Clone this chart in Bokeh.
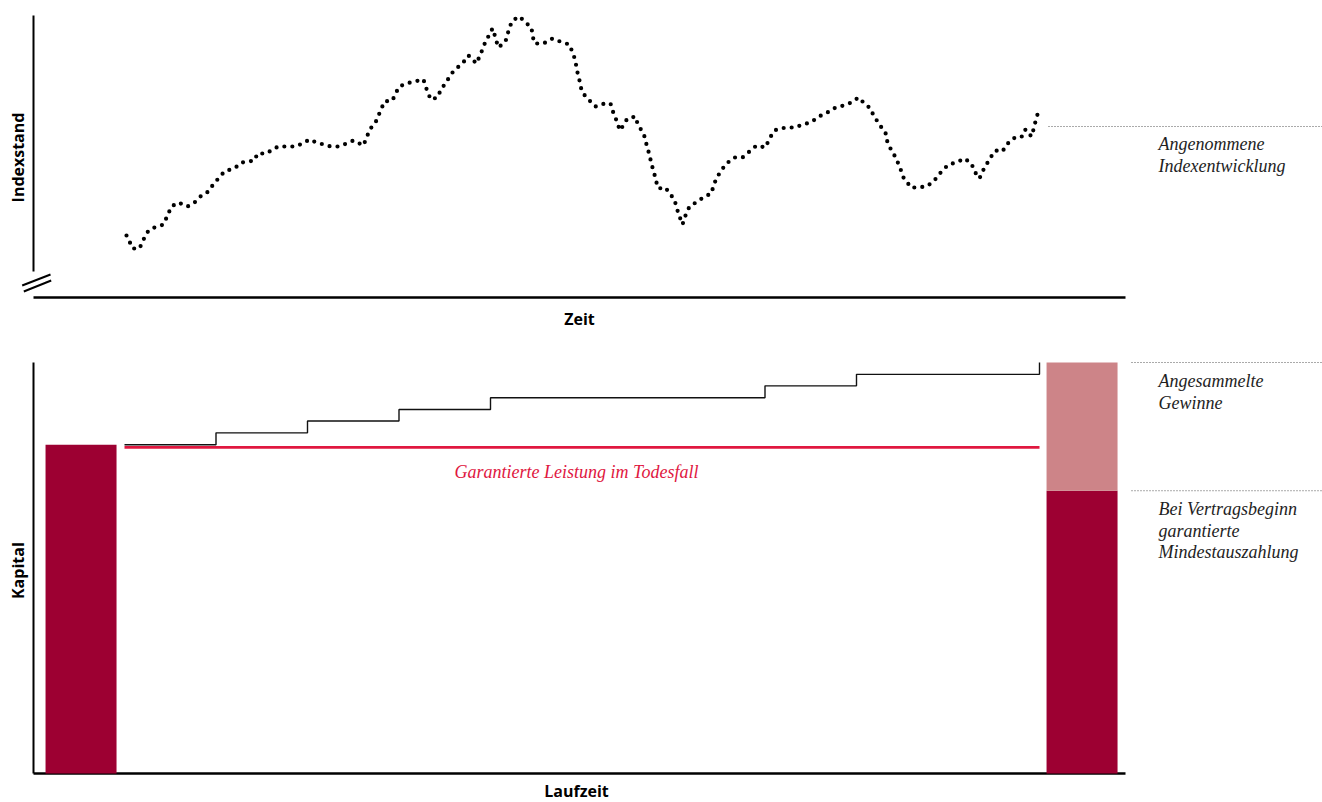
from bokeh.plotting import figure
from bokeh.models import Range1d
from bokeh.layouts import column
from bokeh.core.properties import value
from bokeh.embed import file_html
from bokeh.resources import INLINE

# ---------------- data: top chart (assumed index development) ----------------
zeit_tage = [0, 3, 6, 13, 17, 22, 28, 37, 41, 45,
             52, 61, 68, 75, 82, 86, 91, 98, 104, 109,
             115, 122, 128, 131, 140, 146, 152, 160, 169, 176,
             183, 190, 197, 204, 212, 220, 227, 237, 240, 244,
             249, 252, 255, 258, 266, 269, 273, 280, 288, 297,
             299, 302, 304, 311, 314, 318, 322, 326, 331, 336,
             342, 350, 353, 356, 359, 363, 366, 368, 370, 372,
             379, 381, 383, 386, 393, 399, 405, 406, 408, 417,
             426, 436, 443, 446, 449, 450, 452, 454, 455, 459,
             463, 469, 478, 484, 486, 489, 491, 494, 497, 501,
             509, 511, 515, 518, 520, 522, 524, 526, 528, 530,
             532, 539, 543, 548, 550, 553, 556, 559, 563, 571,
             578, 585, 587, 590, 594, 600, 608, 616, 623, 630,
             639, 643, 648, 653, 661, 669, 676, 684, 690, 696,
             703, 709, 717, 725, 732, 738, 744, 747, 751, 755,
             759, 760, 763, 766, 770, 772, 775, 777, 781, 784,
             791, 800, 807, 811, 815, 822, 830, 838, 845, 848,
             853, 856, 860, 864, 869, 876, 879, 883, 890, 896,
             899, 905, 907, 909, 911, 913]
indexstand = [62, 56, 49, 49, 58, 67, 70, 73, 82, 91,
              95, 91, 95, 102, 106, 112, 118, 126, 128, 130,
              135, 136, 137, 144, 144, 148, 151, 151, 151, 154,
              158, 155, 153, 151, 151, 154, 157, 152, 160, 169,
              175, 182, 189, 196, 197, 204, 211, 214, 216, 218,
              211, 204, 198, 200, 207, 213, 219, 225, 230, 234,
              242, 234, 241, 248, 256, 263, 269, 263, 256, 250,
              256, 263, 270, 277, 281, 275, 270, 262, 254, 254,
              259, 255, 253, 245, 237, 229, 221, 213, 207, 201,
              197, 191, 194, 194, 187, 180, 173, 167, 173, 179,
              181, 174, 167, 161, 153, 146, 138, 130, 123, 115,
              109, 110, 104, 98, 90, 81, 73, 82, 91, 96,
              101, 104, 112, 119, 126, 134, 140, 140, 146, 152,
              150, 159, 167, 169, 170, 170, 173, 175, 179, 183,
              186, 190, 192, 195, 200, 194, 189, 182, 176, 170,
              165, 158, 151, 145, 139, 133, 126, 120, 115, 110,
              110, 111, 116, 121, 126, 133, 135, 139, 134, 126,
              119, 126, 133, 140, 147, 146, 151, 156, 161, 161,
              168, 161, 168, 176, 183, 190]
index_label_level = 171
index_label_lines = ["Angenommene", "Indexentwicklung"]

# ---------------- data: bottom chart (capital over term) ----------------
laufzeit_jahre = [0, 1, 2, 3, 4, 5, 6, 7, 8, 9, 10]
kapital_stufen = [100.0, 103.6, 107.2, 110.7, 114.3, 114.3, 114.3, 117.9, 121.4, 121.4, 125.0]
todesfall_leistung = 99.2
start_garantie = 100.0
end_mindest = 86.0
end_gesamt = 125.0
gewinne_lines = ["Angesammelte", "Gewinne"]
mindest_lines = ["Bei Vertragsbeginn", "garantierte", "Mindestauszahlung"]
todesfall_text = "Garantierte Leistung im Todesfall"

DARK = "#9d0032"
LIGHT = "#cd8488"
RED = "#e0173f"
TXT = "#1e1e1e"

W = 1322
H_TOP = 340
H_BOT = 462

SANS = value("Open Sans")
SERIF = value("Liberation Serif")
ITALIC_SIZE = "18px"


def base(h, xr, yr):
    p = figure(width=W, height=h, x_range=xr, y_range=yr, output_backend="svg",
               toolbar_location=None, x_axis_location=None, y_axis_location=None,
               min_border=0, outline_line_color=None, border_fill_color="white",
               background_fill_color="white")
    p.grid.visible = False
    return p


# ---------------- top figure: 1 unit = 1 px ----------------
top = base(H_TOP, Range1d(-126, W - 126), Range1d(-(H_TOP - 297), 297))

ax_x0, ax_x1 = -93, 999
top.segment(x0=[ax_x0], y0=[26], x1=[ax_x0], y1=[282], line_color="black", line_width=2)
top.segment(x0=[ax_x0], y0=[0], x1=[ax_x1], y1=[0], line_color="black", line_width=2.4)
# axis break marks
top.segment(x0=[-104.3, -102.7], y0=[12, 6], x1=[-76, -75.3], y1=[23, 17],
            line_color="black", line_width=2)

top.line(zeit_tage, indexstand, line_color="black", line_width=4.2,
         line_dash="0 8", line_cap="round")

top.segment(x0=[zeit_tage[-1] + 9], y0=[index_label_level], x1=[W], y1=[index_label_level],
            line_color="#555555", line_width=1, line_dash="1 2")
top.text(x=[1032, 1032], y=[153.5, 132], text=index_label_lines, text_font=SERIF,
         text_font_style="italic", text_font_size=ITALIC_SIZE, text_color=TXT,
         text_align="left", text_baseline="middle")

top.text(x=[453], y=[-21], text=["Zeit"], text_font=SANS, text_font_style="bold",
         text_font_size="16px", text_color="black", text_align="center",
         text_baseline="middle")
top.text(x=[-108.5], y=[140], text=["Indexstand"], angle=1.5708, text_font=SANS,
         text_font_style="bold", text_font_size="16px", text_color="black",
         text_align="center", text_baseline="middle")

# ---------------- bottom figure ----------------
PXY = 91.5    # px per year
PXC = 3.288   # px per capital unit
bot = base(H_BOT, Range1d(-124 / PXY, (W - 124) / PXY),
           Range1d(-(H_BOT - 433) / PXC, 433 / PXC))

bx0 = -91 / PXY
bx1 = 1001 / PXY
bot.segment(x0=[bx0], y0=[0], x1=[bx0], y1=[end_gesamt], line_color="black", line_width=2)
bot.segment(x0=[bx0], y0=[0], x1=[bx1], y1=[0], line_color="black", line_width=2.4)

bar_w = 71 / PXY
x_start = laufzeit_jahre[0] - 0.475
x_end = laufzeit_jahre[-1] + 0.465
bot.vbar(x=[x_start, x_end], width=bar_w, bottom=0, top=[start_garantie, end_mindest],
         fill_color=DARK, line_color=None)
bot.vbar(x=[x_end], width=bar_w, bottom=end_mindest, top=end_gesamt,
         fill_color=LIGHT, line_color=None)

bot.line([laufzeit_jahre[0], laufzeit_jahre[-1]], [todesfall_leistung, todesfall_leistung],
         line_color=RED, line_width=2.6)
bot.step(laufzeit_jahre, kapital_stufen, mode="after", line_color="#111111", line_width=1.4)

bot.text(x=[4.94], y=[91.8], text=[todesfall_text], text_font=SERIF, text_font_style="italic",
         text_font_size=ITALIC_SIZE, text_color=RED, text_align="center", text_baseline="middle")

lead_x0 = (1131 - 124) / PXY
bot.segment(x0=[lead_x0, lead_x0], y0=[end_gesamt, end_mindest], x1=[W / PXY, W / PXY],
            y1=[end_gesamt, end_mindest], line_color="#555555", line_width=1, line_dash="1 2")
tx = (1158 - 124) / PXY
bot.text(x=[tx] * 2, y=[119.3, 112.7], text=gewinne_lines, text_font=SERIF,
         text_font_style="italic", text_font_size=ITALIC_SIZE, text_color=TXT,
         text_align="left", text_baseline="middle")
bot.text(x=[tx] * 3, y=[80.5, 73.9, 67.3], text=mindest_lines, text_font=SERIF,
         text_font_style="italic", text_font_size=ITALIC_SIZE, text_color=TXT,
         text_align="left", text_baseline="middle")

bot.text(x=[(576 - 124) / PXY], y=[-5.4], text=["Laufzeit"], text_font=SANS,
         text_font_style="bold", text_font_size="16px", text_color="black",
         text_align="center", text_baseline="middle")
bot.text(x=[(17.5 - 124) / PXY], y=[61.7], text=["Kapital"], angle=1.5708, text_font=SANS,
         text_font_style="bold", text_font_size="16px", text_color="black",
         text_align="center", text_baseline="middle")

layout = column(top, bot, spacing=0)
open("out.html", "w").write(file_html(layout, INLINE))
